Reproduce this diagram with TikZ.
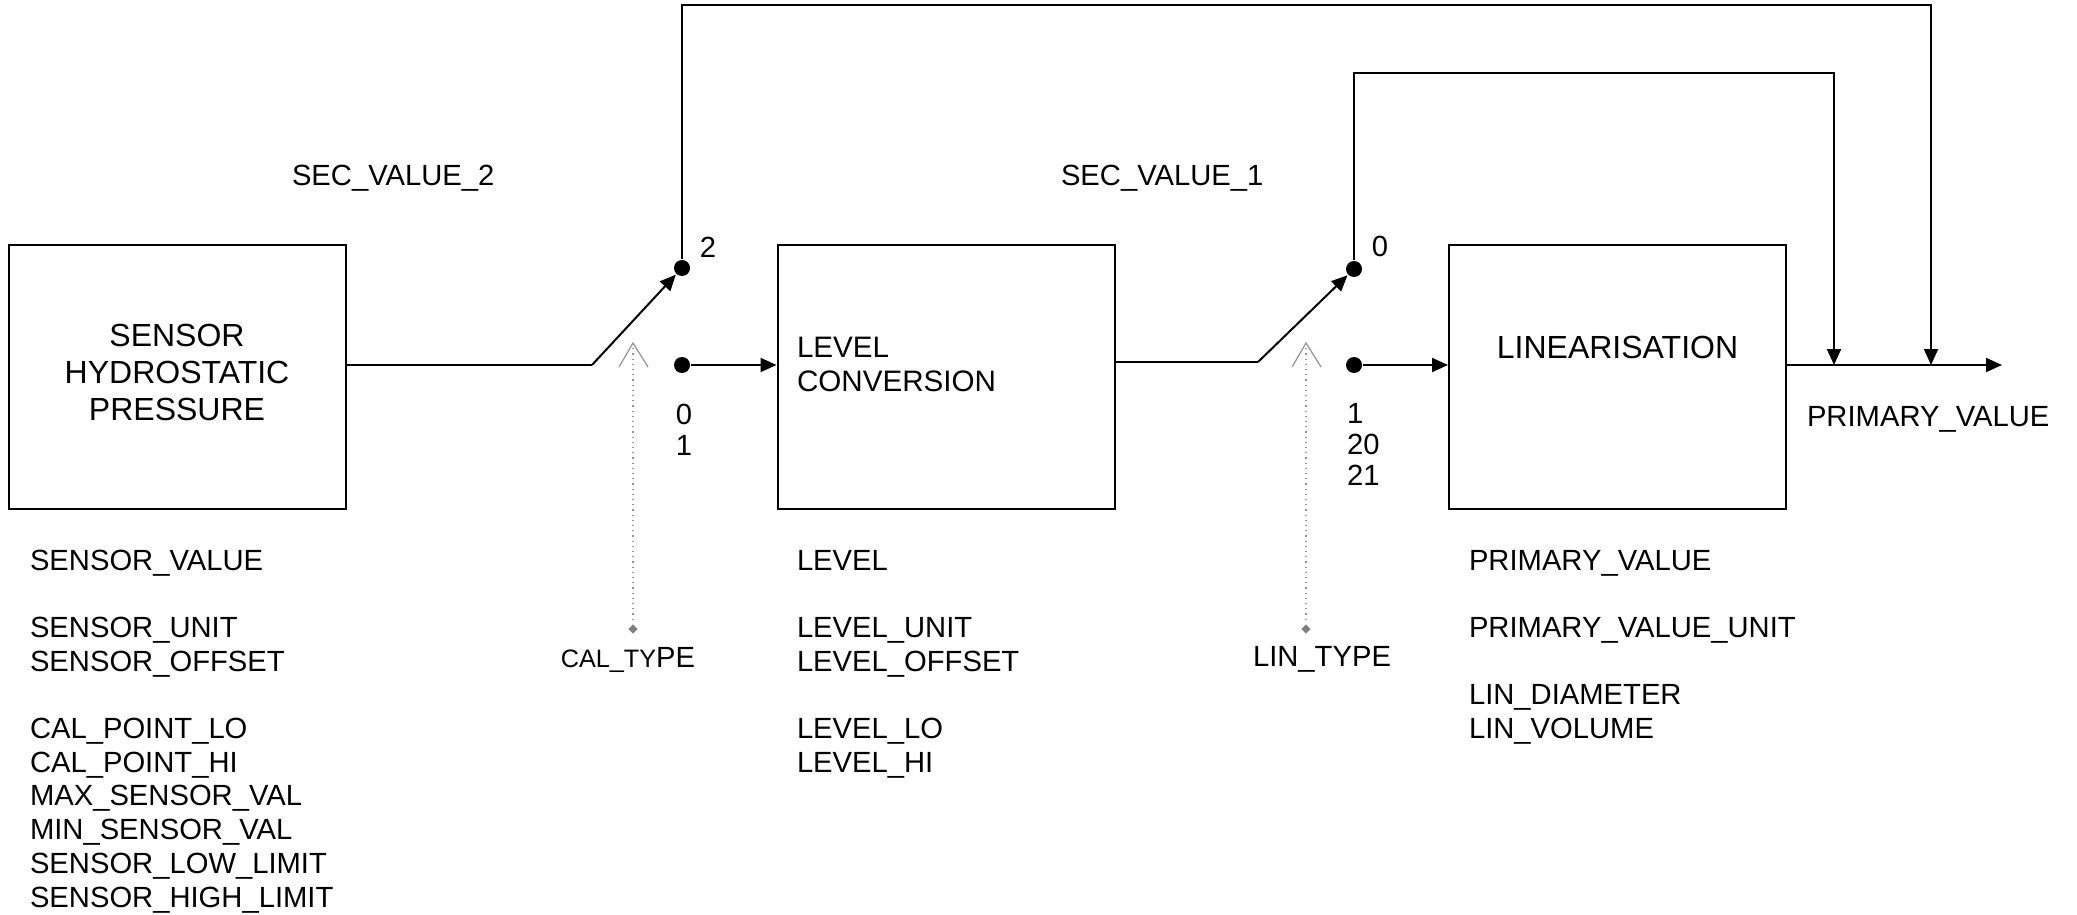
\documentclass[tikz,border=0pt]{standalone}
\usepackage{fontspec}
\setmainfont{Liberation Sans}
\usetikzlibrary{arrows.meta,shapes.geometric,calc}

\begin{document}
\begin{tikzpicture}[x=0.5pt,y=-0.5pt,line width=1pt,>={Triangle[length=8pt,width=7pt]}]

\tikzset{
  box_s/.style = {draw=black, line width=1pt, minimum width=168.5pt,
    minimum height=132pt, inner sep=0pt},
  txt_s/.style = {inner sep=0pt, anchor=base, font=\fontsize{16}{19}\selectfont},
  lbl_s/.style = {inner sep=0pt, anchor=base west, font=\fontsize{14.6}{17}\selectfont},
  dot_s/.style = {circle, fill=black, inner sep=0pt, minimum size=8pt},
  ctl_s/.style = {draw=gray!85, line width=0.6pt},
  dia_s/.style = {diamond, fill=gray, inner sep=0pt, minimum size=5pt}
}
\useasboundingbox (0,0) rectangle (2077,915);

% blocks
\node [box_s] (sens) at (177,376.5) {};
\node [box_s] (lvl) at (946,376.5) {};
\node [box_s] (lin) at (1617.5,376.5) {};

\node [txt_s] (sens_a) at (177,346) {SENSOR};
\node [txt_s] (sens_b) at (177,383) {HYDROSTATIC};
\node [txt_s] (sens_c) at (177,420) {PRESSURE};
\node [txt_s, anchor=base west, font=\fontsize{14.8}{17}\selectfont] (lvl_a) at (796,357) {LEVEL};
\node [txt_s, anchor=base west, font=\fontsize{14.8}{17}\selectfont] (lvl_b) at (796,391) {CONVERSION};
\node [txt_s] (lin_a) at (1617.5,358) {LINEARISATION};

% switch 1
\coordinate (bend1) at (592,365);
\node [dot_s] (sw1_up) at (682,268) {};
\node [dot_s] (sw1_lo) at (682,365) {};
\draw (sens.east |- bend1) -- (bend1);
\draw [->] (bend1) -- (sw1_up);
\draw [->] (sw1_lo) -- (lvl.west |- sw1_lo);

% switch 2
\coordinate (bend2) at (1258,362);
\node [dot_s] (sw2_up) at (1354,269) {};
\node [dot_s] (sw2_lo) at (1354,365) {};
\draw (lvl.east |- bend2) -- (bend2);
\draw [->] (bend2) -- (sw2_up);
\draw [->] (sw2_lo) -- (lin.west |- sw2_lo);

% output and feedback
\coordinate (out) at (2002,365);
\coordinate (top1) at (1931,5);
\coordinate (top2) at (1834,73);
\draw [->] (lin.east |- out) -- (out);
\draw [->] (sw1_up) |- (top1) -- (top1 |- out);
\draw [->] (sw2_up) |- (top2) -- (top2 |- out);

% selectors
\coordinate (cal_c) at (633,343);
\coordinate (lin_c) at (1306,343);
\node [dia_s] (cal_d) at (633,629) {};
\node [dia_s] (lin_d) at (1306,629) {};
\draw [ctl_s] ($(cal_c)+(-14,24)$) -- (cal_c) -- ($(cal_c)+(15,24)$);
\draw [ctl_s] ($(lin_c)+(-14,24)$) -- (lin_c) -- ($(lin_c)+(15,24)$);
\draw [ctl_s, dotted] (cal_c) -- (cal_d);
\draw [ctl_s, dotted] (lin_c) -- (lin_d);
\node [lbl_s, anchor=base] (cal_t) at (628,667) {{\fontsize{12.6}{13}\selectfont CAL\_TY}PE};
\node [lbl_s, anchor=base] (lin_t) at (1322,666) {LIN\_TYPE};

% switch positions
\node [lbl_s, anchor=base] (p2) at (708,257) {2};
\node [lbl_s, anchor=base] (p0a) at (684,424) {0};
\node [lbl_s, anchor=base] (p1a) at (684,455) {1};
\node [lbl_s, anchor=base] (p0b) at (1380,256) {0};
\node [lbl_s] (p1b) at (1346,423) {1};
\node [lbl_s] (p20) at (1346,454) {20};
\node [lbl_s] (p21) at (1346,485) {21};

\node [lbl_s] (sec2) at (291,185) {SEC\_VALUE\_2};
\node [lbl_s] (sec1) at (1060,185) {SEC\_VALUE\_1};
\node [lbl_s] (pv) at (1806,426) {PRIMARY\_VALUE};

% parameter lists
\foreach \t/\k in {SENSOR\_VALUE/0, SENSOR\_UNIT/2, SENSOR\_OFFSET/3,
    CAL\_POINT\_LO/5, CAL\_POINT\_HI/6, MAX\_SENSOR\_VAL/7, MIN\_SENSOR\_VAL/8,
    SENSOR\_LOW\_LIMIT/9, SENSOR\_HIGH\_LIMIT/10}
  \node [lbl_s] (sp\k) at (29,570+33.7*\k) {\t};
\foreach \t/\k in {LEVEL/0, LEVEL\_UNIT/2, LEVEL\_OFFSET/3, LEVEL\_LO/5, LEVEL\_HI/6}
  \node [lbl_s] (lp\k) at (796,570+33.7*\k) {\t};
\foreach \t/\k in {PRIMARY\_VALUE/0, PRIMARY\_VALUE\_UNIT/2, LIN\_DIAMETER/4, LIN\_VOLUME/5}
  \node [lbl_s] (pp\k) at (1468,570+33.7*\k) {\t};

\end{tikzpicture}
\end{document}
